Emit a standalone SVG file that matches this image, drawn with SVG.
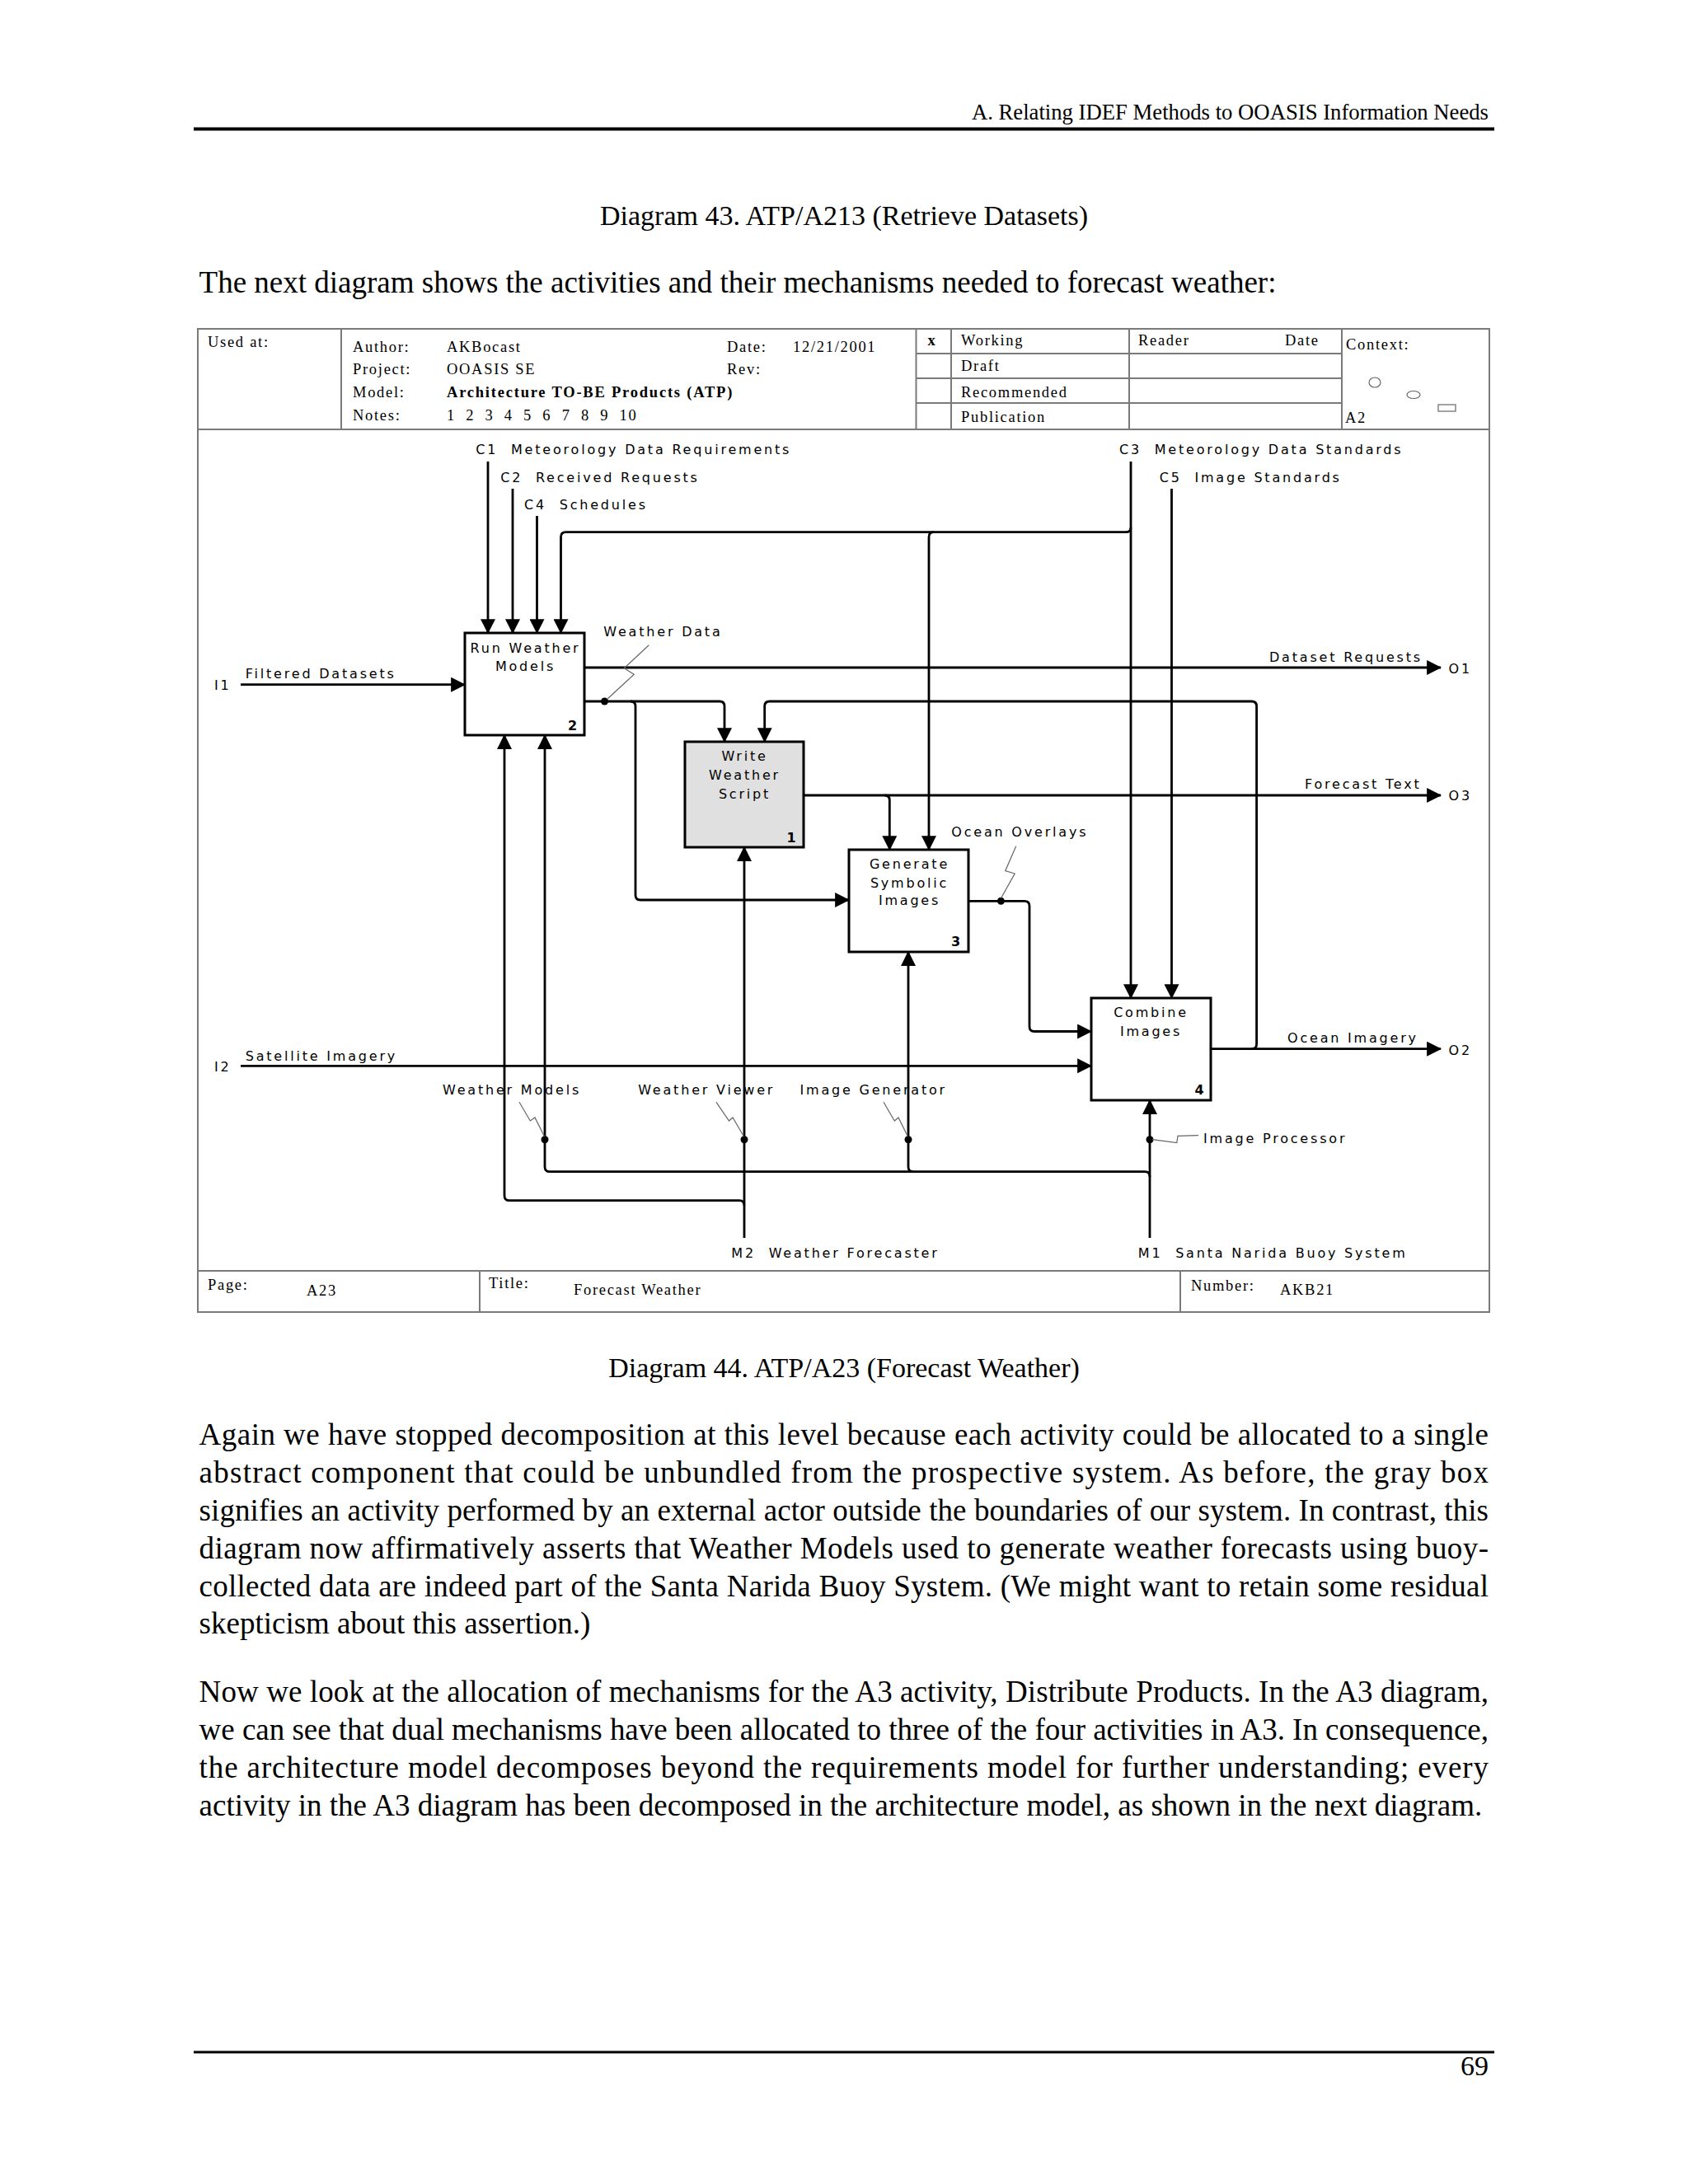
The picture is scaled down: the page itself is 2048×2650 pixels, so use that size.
<svg xmlns="http://www.w3.org/2000/svg" width="2048" height="2650" viewBox="0 0 2048 2650">
<style>
.body{font-family:"Liberation Serif","Times New Roman",serif;font-size:37px;fill:#000}
.cap{font-family:"Liberation Serif","Times New Roman",serif;font-size:34px;fill:#000}
.hdr{font-family:"Liberation Serif","Times New Roman",serif;font-size:18.5px;letter-spacing:1.7px;fill:#000}
.lbl{font-family:"DejaVu Sans",Verdana,sans-serif;font-size:16px;letter-spacing:2.8px;fill:#000}
.num{font-family:"DejaVu Sans",Verdana,sans-serif;font-size:16px;font-weight:bold;fill:#000}
.frame{fill:none;stroke:#7a7a7a;stroke-width:2}
.box{fill:#fff;stroke:#000;stroke-width:3}
.gray{fill:#e0e0e0}
.ln{fill:none;stroke:#000;stroke-width:2.8}
.sq{fill:none;stroke:#666;stroke-width:1.2}
</style>
<defs>
<marker id="ah" markerUnits="userSpaceOnUse" markerWidth="18" markerHeight="18" viewBox="0 0 16 16" refX="15" refY="8" orient="auto">
<path d="M0,0 L16,8 L0,16 z" fill="#000"/>
</marker>
</defs>
<rect width="2048" height="2650" fill="#fff"/>

<!-- page header -->
<text class="cap" x="1806" y="145" text-anchor="end" style="font-size:26.7px">A. Relating IDEF Methods to OOASIS Information Needs</text>
<line x1="235" y1="156.5" x2="1813" y2="156.5" stroke="#000" stroke-width="4"/>
<text class="cap" x="1024" y="273" text-anchor="middle">Diagram 43. ATP/A213 (Retrieve Datasets)</text>
<text class="body" x="241.6" y="355">The next diagram shows the activities and their mechanisms needed to forecast weather:</text>

<!-- IDEF frame -->
<g id="frame">
<rect class="frame" x="240" y="399" width="1567" height="1193"/>
<line class="frame" x1="240" y1="521" x2="1807" y2="521"/>
<line class="frame" x1="414" y1="399" x2="414" y2="521"/>
<line class="frame" x1="1111.5" y1="399" x2="1111.5" y2="521"/>
<line class="frame" x1="1154" y1="399" x2="1154" y2="521"/>
<line class="frame" x1="1370" y1="399" x2="1370" y2="521"/>
<line class="frame" x1="1628" y1="399" x2="1628" y2="521"/>
<line class="frame" x1="1111.5" y1="429" x2="1628" y2="429"/>
<line class="frame" x1="1111.5" y1="459" x2="1628" y2="459"/>
<line class="frame" x1="1111.5" y1="489" x2="1628" y2="489"/>
<line class="frame" x1="240" y1="1542" x2="1807" y2="1542"/>
<line class="frame" x1="582" y1="1542" x2="582" y2="1592"/>
<line class="frame" x1="1432" y1="1542" x2="1432" y2="1592"/>
<text class="hdr" x="252" y="421">Used at:</text>
<text class="hdr" x="428" y="427">Author:</text>
<text class="hdr" x="428" y="454">Project:</text>
<text class="hdr" x="428" y="482">Model:</text>
<text class="hdr" x="428" y="510">Notes:</text>
<text class="hdr" x="542" y="427">AKBocast</text>
<text class="hdr" x="542" y="454">OOASIS SE</text>
<text class="hdr" x="542" y="482" font-weight="bold" textLength="348" lengthAdjust="spacing">Architecture TO-BE Products (ATP)</text>
<text class="hdr" x="542" y="510" word-spacing="6">1 2 3 4 5 6 7 8 9 10</text>
<text class="hdr" x="882" y="427">Date:</text>
<text class="hdr" x="962" y="427">12/21/2001</text>
<text class="hdr" x="882" y="454">Rev:</text>
<text class="hdr" x="1131" y="419" text-anchor="middle" font-weight="bold">x</text>
<text class="hdr" x="1166" y="419">Working</text>
<text class="hdr" x="1166" y="450">Draft</text>
<text class="hdr" x="1166" y="482">Recommended</text>
<text class="hdr" x="1166" y="512">Publication</text>
<text class="hdr" x="1381" y="419">Reader</text>
<text class="hdr" x="1559" y="419">Date</text>
<text class="hdr" x="1633" y="424">Context:</text>
<ellipse cx="1668" cy="464" rx="7" ry="6" fill="none" stroke="#666" stroke-width="1.2"/>
<ellipse cx="1715" cy="479" rx="8" ry="4.5" fill="none" stroke="#666" stroke-width="1.2"/>
<rect x="1745" y="491" width="21" height="8" fill="none" stroke="#666" stroke-width="1.2"/>
<text class="hdr" x="1632" y="513">A2</text>
<text class="hdr" x="252" y="1565">Page:</text>
<text class="hdr" x="372" y="1572">A23</text>
<text class="hdr" x="593" y="1563">Title:</text>
<text class="hdr" x="696" y="1571">Forecast Weather</text>
<text class="hdr" x="1445" y="1566">Number:</text>
<text class="hdr" x="1553" y="1571">AKB21</text>
</g>

<!-- connectors -->
<g id="connectors">
<path class="ln" d="M592,560 V768" marker-end="url(#ah)"/>
<path class="ln" d="M622,593 V768" marker-end="url(#ah)"/>
<path class="ln" d="M651.5,626 V768" marker-end="url(#ah)"/>
<path class="ln" d="M1372,560 V1211" marker-end="url(#ah)"/>
<path class="ln" d="M1372,640 Q1372,645.7 1366,645.7 H686.5 Q680.5,645.7 680.5,651.7 V768" marker-end="url(#ah)"/>
<path class="ln" d="M1133,645.7 Q1127,645.7 1127,651.7 V1031" marker-end="url(#ah)"/>
<path class="ln" d="M1421.5,593 V1211" marker-end="url(#ah)"/>
<path class="ln" d="M292,830.7 H564" marker-end="url(#ah)"/>
<path class="ln" d="M292,1293.3 H1324" marker-end="url(#ah)"/>
<path class="ln" d="M709,810 H1748" marker-end="url(#ah)"/>
<path class="ln" d="M709,851 H873 Q879,851 879,857 V900" marker-end="url(#ah)"/>
<path class="ln" d="M765,851 Q771,851 771,857 V1086 Q771,1092 777,1092 H1030" marker-end="url(#ah)"/>
<circle cx="733.5" cy="851" r="4.5"/>
<path class="ln" d="M1469,1272.7 H1748" marker-end="url(#ah)"/>
<path class="ln" d="M1518.6,1272.7 Q1524.6,1272.7 1524.6,1266.7 V857 Q1524.6,851 1518.6,851 H933.7 Q927.7,851 927.7,857 V900" marker-end="url(#ah)"/>
<path class="ln" d="M975,965 H1748" marker-end="url(#ah)"/>
<path class="ln" d="M1073.3,965 Q1079.3,965 1079.3,971 V1031" marker-end="url(#ah)"/>
<path class="ln" d="M1175,1093.3 H1243 Q1249,1093.3 1249,1099.3 V1245.5 Q1249,1251.5 1255,1251.5 H1324" marker-end="url(#ah)"/>
<circle cx="1214.4" cy="1093.3" r="4.5"/>
<path class="ln" d="M903,1502 V1028" marker-end="url(#ah)"/>
<path class="ln" d="M903,1462.7 Q903,1456.7 897,1456.7 H618 Q612,1456.7 612,1450.7 V892" marker-end="url(#ah)"/>
<path class="ln" d="M1395,1502 V1335" marker-end="url(#ah)"/>
<path class="ln" d="M1395,1427.7 Q1395,1421.7 1389,1421.7 H667 Q661,1421.7 661,1415.7 V892" marker-end="url(#ah)"/>
<path class="ln" d="M1108,1421.7 Q1102,1421.7 1102,1415.7 V1155" marker-end="url(#ah)"/>
<circle cx="661" cy="1382.7" r="4.5"/>
<circle cx="903" cy="1382.7" r="4.5"/>
<circle cx="1102" cy="1382.7" r="4.5"/>
<circle cx="1395" cy="1382.7" r="4.5"/>
<path class="sq" d="M787.3,782.7 L757.3,810.7 L769.3,818.3 L737,848"/>
<path class="sq" d="M1232.7,1026.7 L1219.7,1056.7 L1231.2,1060 L1214.4,1090"/>
<path class="sq" d="M630,1337.3 L643.3,1360 L649,1356 L660.5,1379"/>
<path class="sq" d="M869,1337.3 L884.5,1360 L889,1356 L902.5,1379"/>
<path class="sq" d="M1072,1337.3 L1085.3,1360 L1090,1356 L1101.4,1379"/>
<path class="sq" d="M1454,1377.7 L1429,1378.3 L1427.8,1386.7 L1398,1382.7"/>
<!-- connector labels -->
<text class="lbl" x="577.3" y="551" xml:space="preserve">C1  Meteorology Data Requirements</text>
<text class="lbl" x="607.2" y="585" xml:space="preserve">C2  Received Requests</text>
<text class="lbl" x="636" y="618" xml:space="preserve">C4  Schedules</text>
<text class="lbl" x="1358" y="551" xml:space="preserve">C3  Meteorology Data Standards</text>
<text class="lbl" x="1406.7" y="585" xml:space="preserve">C5  Image Standards</text>
<text class="lbl" x="260" y="837">I1</text>
<text class="lbl" x="297.7" y="823.3">Filtered Datasets</text>
<text class="lbl" x="260" y="1300">I2</text>
<text class="lbl" x="297.7" y="1286.7">Satellite Imagery</text>
<text class="lbl" x="732.3" y="771.7">Weather Data</text>
<text class="lbl" x="1540" y="803.3">Dataset Requests</text>
<text class="lbl" x="1757.5" y="817">O1</text>
<text class="lbl" x="1583" y="957.3">Forecast Text</text>
<text class="lbl" x="1757.5" y="971">O3</text>
<text class="lbl" x="1154.3" y="1015">Ocean Overlays</text>
<text class="lbl" x="1562" y="1265">Ocean Imagery</text>
<text class="lbl" x="1757.5" y="1280">O2</text>
<text class="lbl" x="537" y="1328.3">Weather Models</text>
<text class="lbl" x="774.2" y="1328.3">Weather Viewer</text>
<text class="lbl" x="970.5" y="1328.3">Image Generator</text>
<text class="lbl" x="1460" y="1387.3">Image Processor</text>
<text class="lbl" x="887.3" y="1526" xml:space="preserve">M2  Weather Forecaster</text>
<text class="lbl" x="1380.8" y="1526" xml:space="preserve">M1  Santa Narida Buoy System</text>
</g>

<!-- activity boxes -->
<g id="node-run-weather-models">
<rect class="box" x="564" y="768" width="145" height="124"/>
<text class="lbl" x="637.5" y="791.7" text-anchor="middle">Run Weather</text>
<text class="lbl" x="637.5" y="814.3" text-anchor="middle">Models</text>
<text class="num" x="694.5" y="885.7" text-anchor="middle">2</text>
</g>
<g id="node-write-weather-script">
<rect class="box gray" x="831" y="900" width="144" height="128"/>
<text class="lbl" x="903.5" y="923.3" text-anchor="middle">Write</text>
<text class="lbl" x="903.5" y="946" text-anchor="middle">Weather</text>
<text class="lbl" x="903.5" y="968.7" text-anchor="middle">Script</text>
<text class="num" x="960" y="1021.7" text-anchor="middle">1</text>
</g>
<g id="node-generate-symbolic-images">
<rect class="box" x="1030" y="1031" width="145" height="124"/>
<text class="lbl" x="1103.5" y="1054" text-anchor="middle">Generate</text>
<text class="lbl" x="1103.5" y="1076.7" text-anchor="middle">Symbolic</text>
<text class="lbl" x="1103.5" y="1098.3" text-anchor="middle">Images</text>
<text class="num" x="1159.5" y="1148.3" text-anchor="middle">3</text>
</g>
<g id="node-combine-images">
<rect class="box" x="1324" y="1211" width="145" height="124"/>
<text class="lbl" x="1396.5" y="1234" text-anchor="middle">Combine</text>
<text class="lbl" x="1396.5" y="1256.7" text-anchor="middle">Images</text>
<text class="num" x="1455" y="1328" text-anchor="middle">4</text>
</g>

<!-- body text -->
<text class="cap" x="1024" y="1671" text-anchor="middle">Diagram 44. ATP/A23 (Forecast Weather)</text>
<text class="body" x="241.6" y="1753" textLength="1564.4" lengthAdjust="spacing">Again we have stopped decomposition at this level because each activity could be allocated to a single</text>
<text class="body" x="241.6" y="1799" textLength="1564.4" lengthAdjust="spacing">abstract component that could be unbundled from the prospective system. As before, the gray box</text>
<text class="body" x="241.6" y="1845" textLength="1564.4" lengthAdjust="spacing">signifies an activity performed by an external actor outside the boundaries of our system. In contrast, this</text>
<text class="body" x="241.6" y="1891" textLength="1564.4" lengthAdjust="spacing">diagram now affirmatively asserts that Weather Models used to generate weather forecasts using buoy-</text>
<text class="body" x="241.6" y="1937" textLength="1564.4" lengthAdjust="spacing">collected data are indeed part of the Santa Narida Buoy System. (We might want to retain some residual</text>
<text class="body" x="241.6" y="1982">skepticism about this assertion.)</text>
<text class="body" x="241.6" y="2065" textLength="1564.4" lengthAdjust="spacing">Now we look at the allocation of mechanisms for the A3 activity, Distribute Products. In the A3 diagram,</text>
<text class="body" x="241.6" y="2111" textLength="1564.4" lengthAdjust="spacing">we can see that dual mechanisms have been allocated to three of the four activities in A3. In consequence,</text>
<text class="body" x="241.6" y="2157" textLength="1564.4" lengthAdjust="spacing">the architecture model decomposes beyond the requirements model for further understanding; every</text>
<text class="body" x="241.6" y="2203">activity in the A3 diagram has been decomposed in the architecture model, as shown in the next diagram.</text>

<line x1="235" y1="2490" x2="1813" y2="2490" stroke="#000" stroke-width="3"/>
<text class="cap" x="1806" y="2518" text-anchor="end">69</text>
</svg>
